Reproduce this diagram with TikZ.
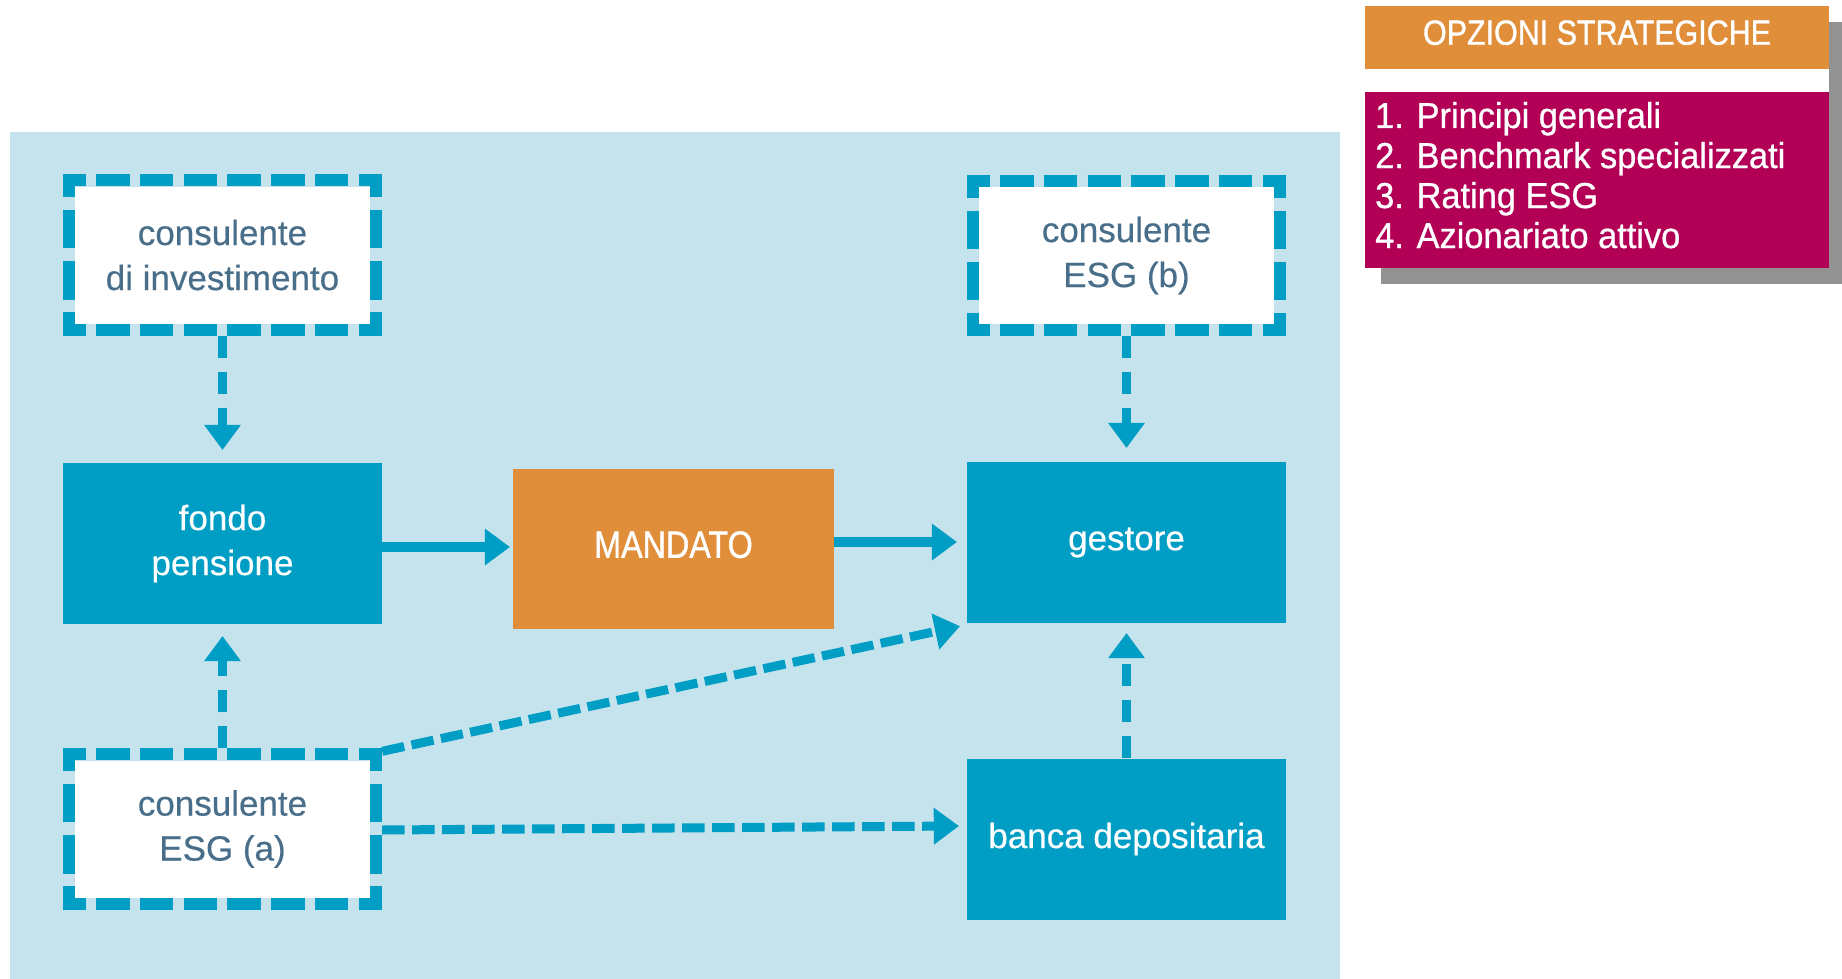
\documentclass[tikz,border=0pt]{standalone}
\usepackage{fontspec}
\setmainfont{Liberation Sans}
\newfontfamily\condM{Liberation Sans}[FakeStretch=0.85,FakeBold=1]
\newfontfamily\condT{Liberation Sans}[FakeStretch=0.87,FakeBold=1]
\newfontfamily\condL{Liberation Sans}[FakeStretch=0.955,FakeBold=0.8]
\newfontfamily\boxfont{Liberation Sans}[FakeBold=0.4]
\usetikzlibrary{arrows.meta}
\definecolor{bgblue}{RGB}{197,227,237}
\definecolor{boxblue}{RGB}{0,158,196}
\definecolor{orng}{RGB}{224,142,58}
\definecolor{mag}{RGB}{177,0,86}
\definecolor{shad}{RGB}{146,146,146}
\definecolor{txtslate}{RGB}{72,110,138}
\newcommand\dashframe[1]{%
  \draw[hedge] ([shift={(-12pt,6pt)}]#1.north west) -- ([shift={(12pt,6pt)}]#1.north east);
  \draw[hedge] ([shift={(-12pt,-6pt)}]#1.south west) -- ([shift={(12pt,-6pt)}]#1.south east);
  \draw[vedge] ([shift={(-6pt,12pt)}]#1.north west) -- ([shift={(-6pt,-12pt)}]#1.south west);
  \draw[vedge] ([shift={(6pt,12pt)}]#1.north east) -- ([shift={(6pt,-12pt)}]#1.south east);
}
\begin{document}
\begin{tikzpicture}[x=1pt,y=-1pt,
  solidbox/.style={fill=boxblue, text=white, minimum width=319pt, minimum height=161pt,
    inner sep=0pt, align=center, font=\boxfont\fontsize{35pt}{45pt}\selectfont},
  whitebox/.style={fill=white, text=txtslate, minimum width=295pt, minimum height=137pt,
    inner sep=0pt, align=center, font=\boxfont\fontsize{35pt}{45pt}\selectfont},
  hedge/.style={draw=boxblue, line width=12pt, dash pattern=on 33.48pt off 10.3pt, dash phase=10.48pt},
  vedge/.style={draw=boxblue, line width=12pt, dash pattern=on 38.45pt off 12.7pt, dash phase=15.45pt},
  conn/.style={draw=boxblue, line width=9pt, -{Triangle[length=25pt,width=37pt,line width=0pt]}},
  solidc/.style={conn, line width=10pt},
  vdashc/.style={conn, dash pattern=on 22pt off 14pt},
  hdashc/.style={conn, dash pattern=on 22.5pt off 7.5pt},
  listtxt/.style={anchor=base west, inner sep=0pt, text=white, font=\condL\fontsize{36pt}{40pt}\selectfont},
]
\useasboundingbox (0,0) rectangle (1842,979);
\fill[bgblue] (10,132) rectangle (1340,979);

% right panel
\fill[shad] (1381,22) rectangle (1845,284);
\fill[white] (1365,6) rectangle (1829,268);
\node[fill=orng, minimum width=464pt, minimum height=63pt, inner sep=0pt, text=white, text depth=10pt,
  font=\condT\fontsize{35pt}{42pt}\selectfont] (opz) at (1597,37.5) {OPZIONI STRATEGICHE};
\node[fill=mag, minimum width=464pt, minimum height=176pt, inner sep=0pt, anchor=north west] (list) at (1365,92) {};
\node[listtxt] (l1) at (1375,128) {1. Principi generali};
\node[listtxt] (l2) at (1375,168) {2. Benchmark specializzati};
\node[listtxt] (l3) at (1375,208) {3. Rating ESG};
\node[listtxt] (l4) at (1375,248) {4. Azionariato attivo};

% boxes
\node[whitebox] (invest) at (222.5,255) {consulente\\di investimento};
\node[whitebox] (esgb) at (1126.5,255.5) {consulente\\ESG (b)};
\node[whitebox] (esga) at (222.5,829) {consulente\\ESG (a)};
\node[solidbox] (fondo) at (222.5,543.5) {fondo\\pensione};
\node[solidbox, fill=orng, minimum width=321pt, minimum height=160pt, text depth=9pt,
  font=\condM\fontsize{38pt}{45pt}\selectfont] (mandato) at (673.5,549) {MANDATO};
\node[solidbox] (gestore) at (1126.5,542.5) {gestore};
\node[solidbox] (banca) at (1126.5,839) {banca depositaria};

\dashframe{invest}
\dashframe{esgb}
\dashframe{esga}

% connectors
\draw[vdashc] ([yshift=-12pt]invest.south) -- ([yshift=13pt]fondo.north);
\draw[vdashc] ([yshift=-12pt]esgb.south) -- ([yshift=14pt]gestore.north);
\draw[vdashc] (banca.north) -- ([yshift=-10pt]gestore.south);
\draw[vdashc] ([yshift=12pt]esga.north) -- ([yshift=-12pt]fondo.south);
\draw[solidc] ([yshift=-3.5pt]fondo.east) -- ([shift={(-3pt,2pt)}]mandato.west);
\draw[solidc] ([yshift=7pt]mandato.east) -- ([shift={(-10pt,0.5pt)}]gestore.west);
\draw[hdashc] ([shift={(12pt,9pt)}]esga.north east) -- ([shift={(-7pt,-3pt)}]gestore.south west);
\draw[hdashc] ([shift={(12pt,-1pt)}]esga.east) -- ([shift={(-8pt,13pt)}]banca.west);
\end{tikzpicture}
\end{document}
